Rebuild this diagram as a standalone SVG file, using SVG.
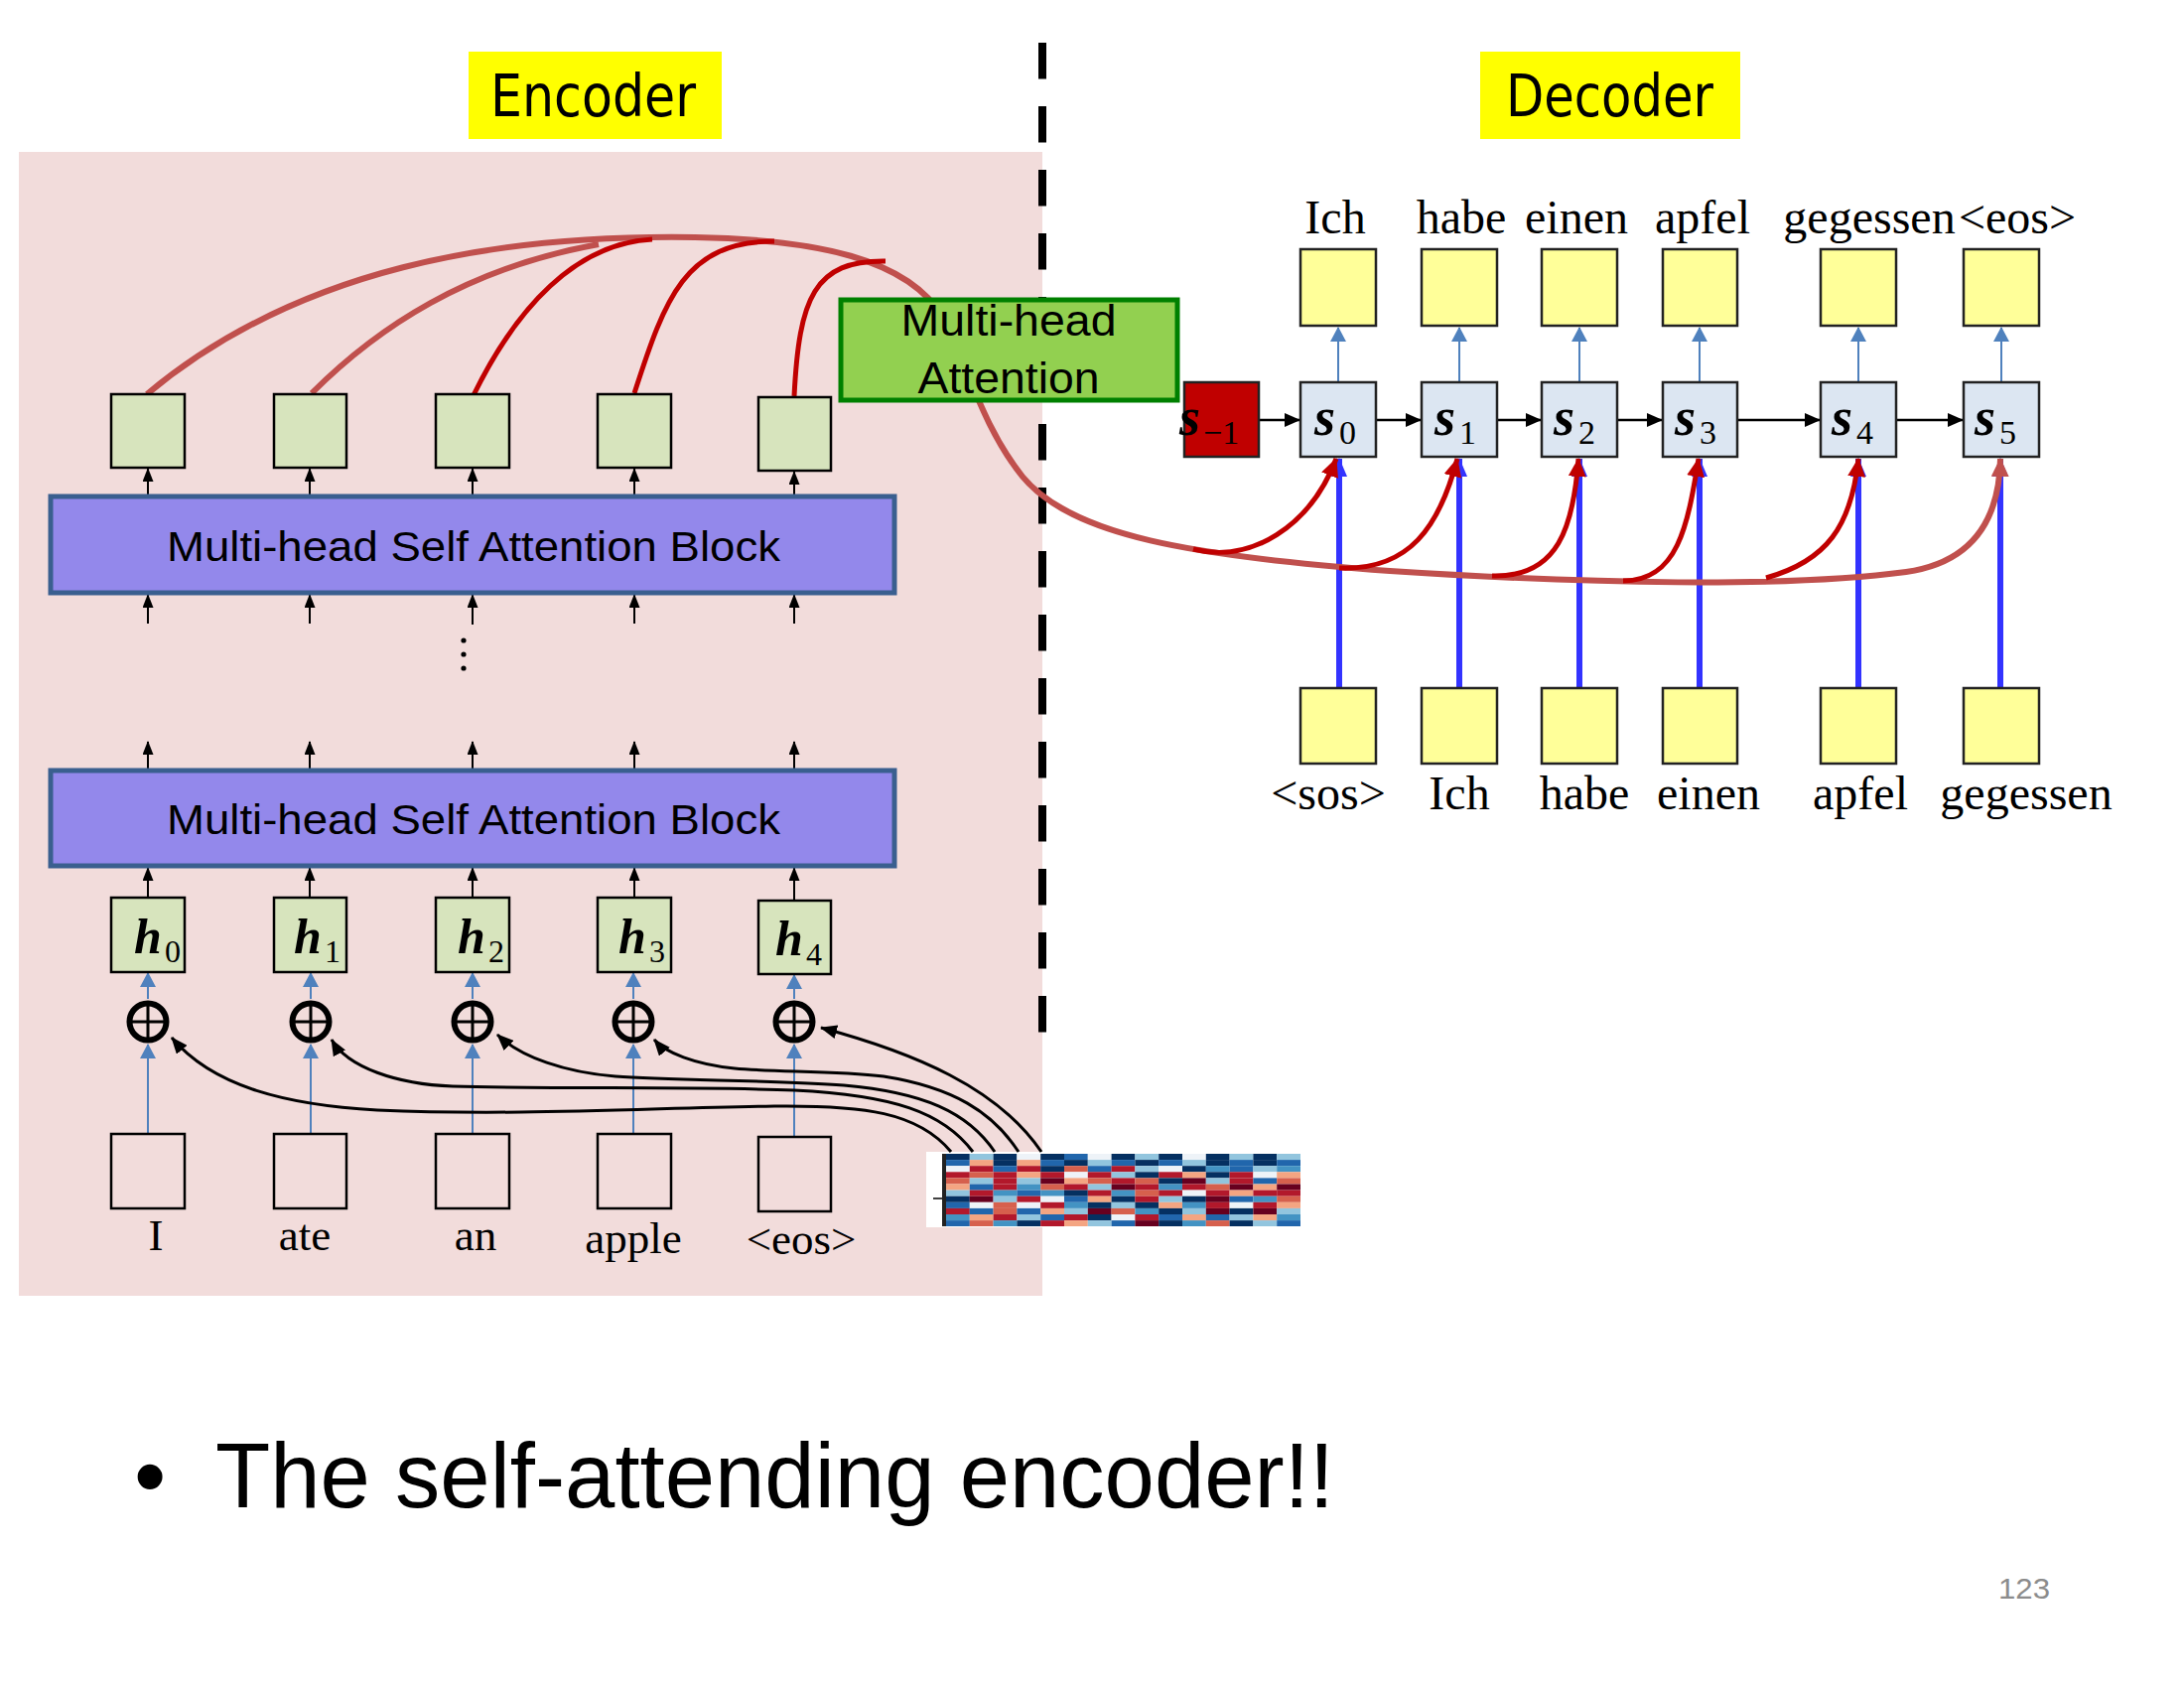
<svg xmlns="http://www.w3.org/2000/svg" width="2200" height="1700" viewBox="0 0 2200 1700">
<style>
.title{font-family:"Comic Sans MS","DejaVu Sans",sans-serif;font-size:58px;fill:#000}
.cal{font-family:"Liberation Sans","Noto Sans",sans-serif;fill:#000}
.word{font-family:"Liberation Serif","Times New Roman",serif;fill:#000;text-anchor:middle}
.var{font-family:"Liberation Serif","Times New Roman",serif;font-weight:bold;font-style:italic;fill:#000}
.sub{font-family:"Liberation Serif","Times New Roman",serif;fill:#000}
.encbox{fill:#D7E4BD;stroke:#000;stroke-width:2.5}
.inbox{fill:none;stroke:#000;stroke-width:2.5}
.sbox{fill:#DCE6F2;stroke:#222;stroke-width:2.5}
.ybox{fill:#FFFF99;stroke:#222;stroke-width:2.5}
.block{fill:#9388EB;stroke:#3A5F8F;stroke-width:5}
.blk{stroke:#000;stroke-width:2;fill:none;marker-end:url(#ahBlack)}
.blu{stroke:#4F81BD;stroke-width:2;fill:none;marker-end:url(#ahBlue)}
.bluT{stroke:#3333FF;stroke-width:6;fill:none;marker-end:url(#ahBlueT)}
.pe{stroke:#000;stroke-width:3;fill:none;marker-end:url(#ahPE)}
.hor{stroke:#000;stroke-width:2.5;fill:none;marker-end:url(#ahHor)}
.lr{stroke:#C0504D;stroke-width:6;fill:none}
.dr{stroke:#C00000;stroke-width:5;fill:none}
.drA{stroke:#C00000;stroke-width:5;fill:none;marker-end:url(#ahRed)}
.plus circle{fill:none;stroke:#000;stroke-width:6}
.plus path{stroke:#000;stroke-width:3}
.A{fill:#053061}.B{fill:#2166AC}.C{fill:#4393C3}.D{fill:#92C5DE}.E{fill:#EEF3F8}.F{fill:#F4A582}.G{fill:#D6604D}.H{fill:#B2182B}.I{fill:#67001F}
</style>
<defs>
<marker id="ahBlack" markerWidth="14" markerHeight="11" refX="13" refY="5.5" orient="auto" markerUnits="userSpaceOnUse"><path d="M0,0 L14,5.5 L0,11 z" fill="#000"/></marker>
<marker id="ahBlue" markerWidth="15" markerHeight="16" refX="14" refY="8" orient="auto" markerUnits="userSpaceOnUse"><path d="M0,0 L15,8 L0,16 z" fill="#4F81BD"/></marker>
<marker id="ahBlueT" markerWidth="19" markerHeight="16" refX="18" refY="8" orient="auto" markerUnits="userSpaceOnUse"><path d="M0,0 L19,8 L0,16 z" fill="#3333FF"/></marker>
<marker id="ahPE" markerWidth="17" markerHeight="14" refX="16" refY="7" orient="auto" markerUnits="userSpaceOnUse"><path d="M0,0 L17,7 L0,14 z" fill="#000"/></marker>
<marker id="ahHor" markerWidth="16" markerHeight="14" refX="15" refY="7" orient="auto" markerUnits="userSpaceOnUse"><path d="M0,0 L16,7 L0,14 z" fill="#000"/></marker>
<marker id="ahRed" markerWidth="19" markerHeight="18" refX="18" refY="9" orient="auto" markerUnits="userSpaceOnUse"><path d="M0,0 L19,9 L0,18 z" fill="#C00000"/></marker>
<marker id="ahLR" markerWidth="19" markerHeight="18" refX="18" refY="9" orient="auto" markerUnits="userSpaceOnUse"><path d="M0,0 L19,9 L0,18 z" fill="#C0504D"/></marker>
</defs>

<rect width="2200" height="1700" fill="#fff"/>

<!-- encoder background -->
<rect id="encoder-bg" x="19" y="153" width="1031" height="1152" fill="#F2DCDB"/>

<!-- dashed divider -->
<line x1="1050" y1="43" x2="1050" y2="1043" stroke="#000" stroke-width="8" stroke-dasharray="36.5 27.5"/>

<!-- titles -->
<g id="encoder-title"><rect x="472" y="52" width="255" height="88" fill="#FFFF00"/><text class="title" x="494" y="117" textLength="207" lengthAdjust="spacingAndGlyphs">Encoder</text></g>
<g id="decoder-title"><rect x="1491" y="52" width="262" height="88" fill="#FFFF00"/><text class="title" x="1517" y="117" textLength="209" lengthAdjust="spacingAndGlyphs">Decoder</text></g>

<!-- positional encoding heatmap -->
<g id="positional-encoding">
<rect x="933" y="1160" width="377" height="76" fill="#fff"/>
<rect x="949" y="1162" width="4" height="73" fill="#222"/>
<line x1="940" y1="1207" x2="949" y2="1207" stroke="#000" stroke-width="1.5"/>
<g transform="translate(953,1162)">
<g transform="translate(0,0)"><rect class="A" x="0" width="23.8" height="6.1"/><rect class="D" x="23.8" width="23.8" height="6.1"/><rect class="A" x="47.6" width="23.8" height="6.1"/><rect class="E" x="71.4" width="23.8" height="6.1"/><rect class="A" x="95.2" width="23.8" height="6.1"/><rect class="B" x="119" width="23.8" height="6.1"/><rect class="E" x="142.8" width="23.8" height="6.1"/><rect class="A" x="166.6" width="23.8" height="6.1"/><rect class="D" x="190.4" width="23.8" height="6.1"/><rect class="A" x="214.2" width="23.8" height="6.1"/><rect class="E" x="238" width="23.8" height="6.1"/><rect class="A" x="261.8" width="23.8" height="6.1"/><rect class="D" x="285.6" width="23.8" height="6.1"/><rect class="A" x="309.4" width="23.8" height="6.1"/><rect class="D" x="333.2" width="23.8" height="6.1"/></g>
<g transform="translate(0,6.1)"><rect class="B" x="0" width="23.8" height="6.1"/><rect class="F" x="23.8" width="23.8" height="6.1"/><rect class="A" x="47.6" width="23.8" height="6.1"/><rect class="F" x="71.4" width="23.8" height="6.1"/><rect class="B" x="95.2" width="23.8" height="6.1"/><rect class="A" x="119" width="23.8" height="6.1"/><rect class="D" x="142.8" width="23.8" height="6.1"/><rect class="B" x="166.6" width="23.8" height="6.1"/><rect class="A" x="190.4" width="23.8" height="6.1"/><rect class="B" x="214.2" width="23.8" height="6.1"/><rect class="D" x="238" width="23.8" height="6.1"/><rect class="A" x="261.8" width="23.8" height="6.1"/><rect class="B" x="285.6" width="23.8" height="6.1"/><rect class="A" x="309.4" width="23.8" height="6.1"/><rect class="B" x="333.2" width="23.8" height="6.1"/></g>
<g transform="translate(0,12.2)"><rect class="E" x="0" width="23.8" height="6.1"/><rect class="H" x="23.8" width="23.8" height="6.1"/><rect class="B" x="47.6" width="23.8" height="6.1"/><rect class="H" x="71.4" width="23.8" height="6.1"/><rect class="A" x="95.2" width="23.8" height="6.1"/><rect class="G" x="119" width="23.8" height="6.1"/><rect class="B" x="142.8" width="23.8" height="6.1"/><rect class="H" x="166.6" width="23.8" height="6.1"/><rect class="D" x="190.4" width="23.8" height="6.1"/><rect class="E" x="214.2" width="23.8" height="6.1"/><rect class="A" x="238" width="23.8" height="6.1"/><rect class="C" x="261.8" width="23.8" height="6.1"/><rect class="B" x="285.6" width="23.8" height="6.1"/><rect class="D" x="309.4" width="23.8" height="6.1"/><rect class="C" x="333.2" width="23.8" height="6.1"/></g>
<g transform="translate(0,18.3)"><rect class="H" x="0" width="23.8" height="6.1"/><rect class="G" x="23.8" width="23.8" height="6.1"/><rect class="H" x="47.6" width="23.8" height="6.1"/><rect class="F" x="71.4" width="23.8" height="6.1"/><rect class="H" x="95.2" width="23.8" height="6.1"/><rect class="E" x="119" width="23.8" height="6.1"/><rect class="H" x="142.8" width="23.8" height="6.1"/><rect class="D" x="166.6" width="23.8" height="6.1"/><rect class="A" x="190.4" width="23.8" height="6.1"/><rect class="H" x="214.2" width="23.8" height="6.1"/><rect class="F" x="238" width="23.8" height="6.1"/><rect class="A" x="261.8" width="23.8" height="6.1"/><rect class="H" x="285.6" width="23.8" height="6.1"/><rect class="E" x="309.4" width="23.8" height="6.1"/><rect class="F" x="333.2" width="23.8" height="6.1"/></g>
<g transform="translate(0,24.4)"><rect class="G" x="0" width="23.8" height="6.1"/><rect class="D" x="23.8" width="23.8" height="6.1"/><rect class="H" x="47.6" width="23.8" height="6.1"/><rect class="D" x="71.4" width="23.8" height="6.1"/><rect class="I" x="95.2" width="23.8" height="6.1"/><rect class="F" x="119" width="23.8" height="6.1"/><rect class="G" x="142.8" width="23.8" height="6.1"/><rect class="H" x="166.6" width="23.8" height="6.1"/><rect class="G" x="190.4" width="23.8" height="6.1"/><rect class="A" x="214.2" width="23.8" height="6.1"/><rect class="I" x="238" width="23.8" height="6.1"/><rect class="D" x="261.8" width="23.8" height="6.1"/><rect class="H" x="285.6" width="23.8" height="6.1"/><rect class="B" x="309.4" width="23.8" height="6.1"/><rect class="G" x="333.2" width="23.8" height="6.1"/></g>
<g transform="translate(0,30.5)"><rect class="F" x="0" width="23.8" height="6.1"/><rect class="B" x="23.8" width="23.8" height="6.1"/><rect class="H" x="47.6" width="23.8" height="6.1"/><rect class="C" x="71.4" width="23.8" height="6.1"/><rect class="G" x="95.2" width="23.8" height="6.1"/><rect class="H" x="119" width="23.8" height="6.1"/><rect class="D" x="142.8" width="23.8" height="6.1"/><rect class="I" x="166.6" width="23.8" height="6.1"/><rect class="H" x="190.4" width="23.8" height="6.1"/><rect class="C" x="214.2" width="23.8" height="6.1"/><rect class="H" x="238" width="23.8" height="6.1"/><rect class="G" x="261.8" width="23.8" height="6.1"/><rect class="I" x="285.6" width="23.8" height="6.1"/><rect class="F" x="309.4" width="23.8" height="6.1"/><rect class="I" x="333.2" width="23.8" height="6.1"/></g>
<g transform="translate(0,36.6)"><rect class="D" x="0" width="23.8" height="6.1"/><rect class="H" x="23.8" width="23.8" height="6.1"/><rect class="C" x="47.6" width="23.8" height="6.1"/><rect class="B" x="71.4" width="23.8" height="6.1"/><rect class="C" x="95.2" width="23.8" height="6.1"/><rect class="A" x="119" width="23.8" height="6.1"/><rect class="H" x="142.8" width="23.8" height="6.1"/><rect class="C" x="166.6" width="23.8" height="6.1"/><rect class="G" x="190.4" width="23.8" height="6.1"/><rect class="H" x="214.2" width="23.8" height="6.1"/><rect class="E" x="238" width="23.8" height="6.1"/><rect class="H" x="261.8" width="23.8" height="6.1"/><rect class="F" x="285.6" width="23.8" height="6.1"/><rect class="H" x="309.4" width="23.8" height="6.1"/><rect class="H" x="333.2" width="23.8" height="6.1"/></g>
<g transform="translate(0,42.7)"><rect class="A" x="0" width="23.8" height="6.1"/><rect class="I" x="23.8" width="23.8" height="6.1"/><rect class="D" x="47.6" width="23.8" height="6.1"/><rect class="H" x="71.4" width="23.8" height="6.1"/><rect class="E" x="95.2" width="23.8" height="6.1"/><rect class="B" x="119" width="23.8" height="6.1"/><rect class="F" x="142.8" width="23.8" height="6.1"/><rect class="A" x="166.6" width="23.8" height="6.1"/><rect class="H" x="190.4" width="23.8" height="6.1"/><rect class="D" x="214.2" width="23.8" height="6.1"/><rect class="A" x="238" width="23.8" height="6.1"/><rect class="I" x="261.8" width="23.8" height="6.1"/><rect class="B" x="285.6" width="23.8" height="6.1"/><rect class="C" x="309.4" width="23.8" height="6.1"/><rect class="G" x="333.2" width="23.8" height="6.1"/></g>
<g transform="translate(0,48.8)"><rect class="B" x="0" width="23.8" height="6.1"/><rect class="E" x="23.8" width="23.8" height="6.1"/><rect class="G" x="47.6" width="23.8" height="6.1"/><rect class="E" x="71.4" width="23.8" height="6.1"/><rect class="H" x="95.2" width="23.8" height="6.1"/><rect class="C" x="119" width="23.8" height="6.1"/><rect class="A" x="142.8" width="23.8" height="6.1"/><rect class="D" x="166.6" width="23.8" height="6.1"/><rect class="A" x="190.4" width="23.8" height="6.1"/><rect class="F" x="214.2" width="23.8" height="6.1"/><rect class="C" x="238" width="23.8" height="6.1"/><rect class="H" x="261.8" width="23.8" height="6.1"/><rect class="E" x="285.6" width="23.8" height="6.1"/><rect class="H" x="309.4" width="23.8" height="6.1"/><rect class="F" x="333.2" width="23.8" height="6.1"/></g>
<g transform="translate(0,54.9)"><rect class="H" x="0" width="23.8" height="6.1"/><rect class="B" x="23.8" width="23.8" height="6.1"/><rect class="G" x="47.6" width="23.8" height="6.1"/><rect class="B" x="71.4" width="23.8" height="6.1"/><rect class="F" x="95.2" width="23.8" height="6.1"/><rect class="D" x="119" width="23.8" height="6.1"/><rect class="I" x="142.8" width="23.8" height="6.1"/><rect class="G" x="166.6" width="23.8" height="6.1"/><rect class="C" x="190.4" width="23.8" height="6.1"/><rect class="A" x="214.2" width="23.8" height="6.1"/><rect class="D" x="238" width="23.8" height="6.1"/><rect class="I" x="261.8" width="23.8" height="6.1"/><rect class="A" x="285.6" width="23.8" height="6.1"/><rect class="I" x="309.4" width="23.8" height="6.1"/><rect class="D" x="333.2" width="23.8" height="6.1"/></g>
<g transform="translate(0,61)"><rect class="C" x="0" width="23.8" height="6.1"/><rect class="F" x="23.8" width="23.8" height="6.1"/><rect class="H" x="47.6" width="23.8" height="6.1"/><rect class="D" x="71.4" width="23.8" height="6.1"/><rect class="B" x="95.2" width="23.8" height="6.1"/><rect class="H" x="119" width="23.8" height="6.1"/><rect class="A" x="142.8" width="23.8" height="6.1"/><rect class="E" x="166.6" width="23.8" height="6.1"/><rect class="H" x="190.4" width="23.8" height="6.1"/><rect class="B" x="214.2" width="23.8" height="6.1"/><rect class="F" x="238" width="23.8" height="6.1"/><rect class="B" x="261.8" width="23.8" height="6.1"/><rect class="D" x="285.6" width="23.8" height="6.1"/><rect class="F" x="309.4" width="23.8" height="6.1"/><rect class="C" x="333.2" width="23.8" height="6.1"/></g>
<g transform="translate(0,67.1)"><rect class="B" x="0" width="23.8" height="5.9"/><rect class="G" x="23.8" width="23.8" height="5.9"/><rect class="C" x="47.6" width="23.8" height="5.9"/><rect class="A" x="71.4" width="23.8" height="5.9"/><rect class="H" x="95.2" width="23.8" height="5.9"/><rect class="F" x="119" width="23.8" height="5.9"/><rect class="D" x="142.8" width="23.8" height="5.9"/><rect class="B" x="166.6" width="23.8" height="5.9"/><rect class="I" x="190.4" width="23.8" height="5.9"/><rect class="A" x="214.2" width="23.8" height="5.9"/><rect class="C" x="238" width="23.8" height="5.9"/><rect class="G" x="261.8" width="23.8" height="5.9"/><rect class="A" x="285.6" width="23.8" height="5.9"/><rect class="D" x="309.4" width="23.8" height="5.9"/><rect class="B" x="333.2" width="23.8" height="5.9"/></g>
</g>
</g>

<!-- connectors -->
<g id="connectors">
<line class="blk" x1="149" y1="500" x2="149" y2="472"/><line class="blk" x1="312" y1="500" x2="312" y2="472"/><line class="blk" x1="476" y1="500" x2="476" y2="472"/><line class="blk" x1="639" y1="500" x2="639" y2="472"/><line class="blk" x1="800" y1="500" x2="800" y2="475"/>
<line class="blk" x1="149" y1="628" x2="149" y2="599"/><line class="blk" x1="312" y1="628" x2="312" y2="599"/><line class="blk" x1="476" y1="629" x2="476" y2="599"/><line class="blk" x1="639" y1="628" x2="639" y2="599"/><line class="blk" x1="800" y1="628" x2="800" y2="599"/>
<line class="blk" x1="149" y1="776" x2="149" y2="747"/><line class="blk" x1="312" y1="776" x2="312" y2="747"/><line class="blk" x1="476" y1="776" x2="476" y2="747"/><line class="blk" x1="639" y1="776" x2="639" y2="747"/><line class="blk" x1="800" y1="776" x2="800" y2="747"/>
<line class="blk" x1="149" y1="904" x2="149" y2="874"/><line class="blk" x1="312" y1="904" x2="312" y2="874"/><line class="blk" x1="476" y1="904" x2="476" y2="874"/><line class="blk" x1="639" y1="904" x2="639" y2="874"/><line class="blk" x1="800" y1="907" x2="800" y2="874"/>
<line class="blu" x1="149" y1="1142" x2="149" y2="1052"/><line class="blu" x1="313" y1="1142" x2="313" y2="1052"/><line class="blu" x1="476" y1="1142" x2="476" y2="1052"/><line class="blu" x1="638" y1="1142" x2="638" y2="1052"/><line class="blu" x1="800" y1="1145" x2="800" y2="1052"/>
<line class="blu" x1="149" y1="1006" x2="149" y2="980"/><line class="blu" x1="313" y1="1006" x2="313" y2="980"/><line class="blu" x1="476" y1="1006" x2="476" y2="980"/><line class="blu" x1="638" y1="1006" x2="638" y2="980"/><line class="blu" x1="800" y1="1006" x2="800" y2="982"/>
<path class="pe" d="M 958 1160 C 925 1120, 870 1113, 780 1114 C 650 1116, 520 1124, 380 1118 C 290 1113, 215 1095, 173 1045"/>
<path class="pe" d="M 980 1160 C 950 1120, 900 1103, 800 1098 C 700 1094, 560 1097, 456 1094 C 400 1092, 350 1075, 334 1047"/>
<path class="pe" d="M 1002 1160 C 975 1120, 930 1100, 850 1093 C 780 1088, 680 1088, 620 1084 C 570 1080, 525 1065, 501 1042"/>
<path class="pe" d="M 1026 1160 C 1000 1120, 960 1095, 890 1084 C 840 1078, 780 1080, 740 1076 C 700 1072, 670 1060, 659 1047"/>
<path class="pe" d="M 1049 1160 C 1005 1095, 920 1060, 827 1035"/>
<line class="hor" x1="1268" y1="423" x2="1309" y2="423"/><line class="hor" x1="1386" y1="423" x2="1431" y2="423"/><line class="hor" x1="1508" y1="423" x2="1552" y2="423"/><line class="hor" x1="1629" y1="423" x2="1674" y2="423"/><line class="hor" x1="1750" y1="423" x2="1833" y2="423"/><line class="hor" x1="1910" y1="423" x2="1977" y2="423"/>
<line class="blu" x1="1348" y1="385" x2="1348" y2="330"/><line class="blu" x1="1470" y1="385" x2="1470" y2="330"/><line class="blu" x1="1591" y1="385" x2="1591" y2="330"/><line class="blu" x1="1712" y1="385" x2="1712" y2="330"/><line class="blu" x1="1872" y1="385" x2="1872" y2="330"/><line class="blu" x1="2016" y1="385" x2="2016" y2="330"/>
<line class="bluT" x1="1349" y1="693" x2="1349" y2="462"/><line class="bluT" x1="1470" y1="693" x2="1470" y2="462"/><line class="bluT" x1="1591" y1="693" x2="1591" y2="462"/><line class="bluT" x1="1712" y1="693" x2="1712" y2="462"/><line class="bluT" x1="1872" y1="693" x2="1872" y2="462"/><line class="bluT" x1="2015" y1="693" x2="2015" y2="462"/>
<path class="lr" marker-end="url(#ahLR)" d="M 148 397 C 300 270, 500 236, 700 239 C 820 241, 915 260, 950 320 C 975 370, 990 430, 1030 480 C 1080 540, 1200 560, 1400 575 C 1600 588, 1800 592, 1920 576 C 1990 566, 2014 520, 2015 462"/>
<path class="lr" d="M 314 396 C 380 330, 470 270, 603 246"/>
<path class="dr" d="M 477 398 C 520 310, 580 245, 657 241"/>
<path class="dr" d="M 639 396 C 670 300, 690 243, 780 243"/>
<path class="dr" d="M 800 399 C 805 300, 820 262, 892 263"/>
<path class="drA" d="M 1202 553 C 1260 568, 1320 530, 1346 462"/>
<path class="drA" d="M 1349 572 C 1420 575, 1450 530, 1468 462"/>
<path class="drA" d="M 1503 580 C 1570 582, 1585 530, 1590 462"/>
<path class="drA" d="M 1635 585 C 1690 585, 1700 530, 1711 462"/>
<path class="drA" d="M 1779 582 C 1840 565, 1865 530, 1872 462"/>
</g>

<!-- encoder nodes -->
<g id="enc-out-0"><rect class="encbox" x="112" y="397" width="74" height="74"/></g>
<g id="enc-out-1"><rect class="encbox" x="276" y="397" width="73" height="74"/></g>
<g id="enc-out-2"><rect class="encbox" x="439" y="397" width="74" height="74"/></g>
<g id="enc-out-3"><rect class="encbox" x="602" y="397" width="74" height="74"/></g>
<g id="enc-out-4"><rect class="encbox" x="764" y="400" width="73" height="74"/></g>

<g id="msa-block-top"><rect class="block" x="51" y="500" width="850" height="97"/><text class="cal" x="168" y="565" font-size="42" textLength="618" lengthAdjust="spacingAndGlyphs">Multi-head Self Attention Block</text></g>
<g id="ellipsis"><circle cx="467" cy="645" r="2.6" fill="#000"/><circle cx="467" cy="659" r="2.6" fill="#000"/><circle cx="467" cy="673" r="2.6" fill="#000"/></g>
<g id="msa-block-bottom"><rect class="block" x="51" y="776" width="850" height="96"/><text class="cal" x="168" y="840" font-size="42" textLength="618" lengthAdjust="spacingAndGlyphs">Multi-head Self Attention Block</text></g>

<g id="h0"><rect class="encbox" x="112" y="904" width="74" height="75"/><text class="var" x="135" y="960" font-size="50">h</text><text class="sub" x="166" y="969" font-size="32">0</text></g>
<g id="h1"><rect class="encbox" x="276" y="904" width="73" height="75"/><text class="var" x="296" y="960" font-size="50">h</text><text class="sub" x="327" y="969" font-size="32">1</text></g>
<g id="h2"><rect class="encbox" x="439" y="904" width="74" height="75"/><text class="var" x="461" y="960" font-size="50">h</text><text class="sub" x="492" y="969" font-size="32">2</text></g>
<g id="h3"><rect class="encbox" x="602" y="904" width="74" height="75"/><text class="var" x="623" y="960" font-size="50">h</text><text class="sub" x="654" y="969" font-size="32">3</text></g>
<g id="h4"><rect class="encbox" x="764" y="907" width="73" height="74"/><text class="var" x="781" y="962" font-size="50">h</text><text class="sub" x="812" y="972" font-size="32">4</text></g>

<g id="plus-0" class="plus"><circle cx="149" cy="1029" r="18.5"/><path d="M149 1010 V1048 M130 1029 H168"/></g>
<g id="plus-1" class="plus"><circle cx="313" cy="1029" r="18.5"/><path d="M313 1010 V1048 M294 1029 H332"/></g>
<g id="plus-2" class="plus"><circle cx="476" cy="1029" r="18.5"/><path d="M476 1010 V1048 M457 1029 H495"/></g>
<g id="plus-3" class="plus"><circle cx="638" cy="1029" r="18.5"/><path d="M638 1010 V1048 M619 1029 H657"/></g>
<g id="plus-4" class="plus"><circle cx="800" cy="1029" r="18.5"/><path d="M800 1010 V1048 M781 1029 H819"/></g>

<g id="in-I"><rect class="inbox" x="112" y="1142" width="74" height="75"/><text class="word" x="157" y="1259" font-size="45">I</text></g>
<g id="in-ate"><rect class="inbox" x="276" y="1142" width="73" height="75"/><text class="word" x="307" y="1259" font-size="45">ate</text></g>
<g id="in-an"><rect class="inbox" x="439" y="1142" width="74" height="75"/><text class="word" x="479" y="1259" font-size="45">an</text></g>
<g id="in-apple"><rect class="inbox" x="602" y="1142" width="74" height="75"/><text class="word" x="638" y="1262" font-size="45">apple</text></g>
<g id="in-eos"><rect class="inbox" x="764" y="1145" width="73" height="75"/><text class="word" x="807" y="1263" font-size="45">&lt;eos&gt;</text></g>

<!-- multi-head attention -->
<g id="multi-head-attention"><rect x="847" y="302" width="339" height="101" fill="#92D050" stroke="#008000" stroke-width="5"/><text class="cal" x="1016" y="338" font-size="44" text-anchor="middle" textLength="217" lengthAdjust="spacingAndGlyphs">Multi-head</text><text class="cal" x="1016" y="396" font-size="44" text-anchor="middle" textLength="183" lengthAdjust="spacingAndGlyphs">Attention</text></g>

<!-- decoder nodes -->
<g id="s-minus1"><rect x="1193" y="385" width="75" height="75" fill="#C00000" stroke="#222" stroke-width="2.5"/><text class="var" x="1188" y="438" font-size="54">s</text><text class="sub" x="1212" y="447" font-size="34">−1</text></g>
<g id="s0"><rect class="sbox" x="1310" y="385" width="76" height="75"/><text class="var" x="1324" y="438" font-size="54">s</text><text class="sub" x="1349" y="447" font-size="34">0</text></g>
<g id="s1"><rect class="sbox" x="1432" y="385" width="76" height="75"/><text class="var" x="1445" y="438" font-size="54">s</text><text class="sub" x="1470" y="447" font-size="34">1</text></g>
<g id="s2"><rect class="sbox" x="1553" y="385" width="76" height="75"/><text class="var" x="1565" y="438" font-size="54">s</text><text class="sub" x="1590" y="447" font-size="34">2</text></g>
<g id="s3"><rect class="sbox" x="1675" y="385" width="75" height="75"/><text class="var" x="1687" y="438" font-size="54">s</text><text class="sub" x="1712" y="447" font-size="34">3</text></g>
<g id="s4"><rect class="sbox" x="1834" y="385" width="76" height="75"/><text class="var" x="1845" y="438" font-size="54">s</text><text class="sub" x="1870" y="447" font-size="34">4</text></g>
<g id="s5"><rect class="sbox" x="1978" y="385" width="76" height="75"/><text class="var" x="1989" y="438" font-size="54">s</text><text class="sub" x="2014" y="447" font-size="34">5</text></g>

<g id="out-Ich"><rect class="ybox" x="1310" y="251" width="76" height="77"/><text class="word" x="1345" y="235" font-size="48">Ich</text></g>
<g id="out-habe"><rect class="ybox" x="1432" y="251" width="76" height="77"/><text class="word" x="1472" y="235" font-size="48">habe</text></g>
<g id="out-einen"><rect class="ybox" x="1553" y="251" width="76" height="77"/><text class="word" x="1588" y="235" font-size="48">einen</text></g>
<g id="out-apfel"><rect class="ybox" x="1675" y="251" width="75" height="77"/><text class="word" x="1715" y="235" font-size="48">apfel</text></g>
<g id="out-gegessen"><rect class="ybox" x="1834" y="251" width="76" height="77"/><text class="word" x="1883" y="235" font-size="48">gegessen</text></g>
<g id="out-eos"><rect class="ybox" x="1978" y="251" width="76" height="77"/><text class="word" x="2032" y="235" font-size="48">&lt;eos&gt;</text></g>

<g id="dec-in-sos"><rect class="ybox" x="1310" y="693" width="76" height="76"/><text class="word" x="1338" y="815" font-size="48">&lt;sos&gt;</text></g>
<g id="dec-in-Ich"><rect class="ybox" x="1432" y="693" width="76" height="76"/><text class="word" x="1470" y="815" font-size="48">Ich</text></g>
<g id="dec-in-habe"><rect class="ybox" x="1553" y="693" width="76" height="76"/><text class="word" x="1596" y="815" font-size="48">habe</text></g>
<g id="dec-in-einen"><rect class="ybox" x="1675" y="693" width="75" height="76"/><text class="word" x="1721" y="815" font-size="48">einen</text></g>
<g id="dec-in-apfel"><rect class="ybox" x="1834" y="693" width="76" height="76"/><text class="word" x="1874" y="815" font-size="48">apfel</text></g>
<g id="dec-in-gegessen"><rect class="ybox" x="1978" y="693" width="76" height="76"/><text class="word" x="2041" y="815" font-size="48">gegessen</text></g>

<!-- caption -->
<g id="caption"><text class="cal" x="135" y="1518" font-size="92">•</text><text class="cal" x="217" y="1518" font-size="92" textLength="1127" lengthAdjust="spacingAndGlyphs">The self-attending encoder!!</text></g>
<text class="cal" x="2013" y="1610" font-size="30" style="fill:#8C8C8C" textLength="52" lengthAdjust="spacingAndGlyphs">123</text>
</svg>
